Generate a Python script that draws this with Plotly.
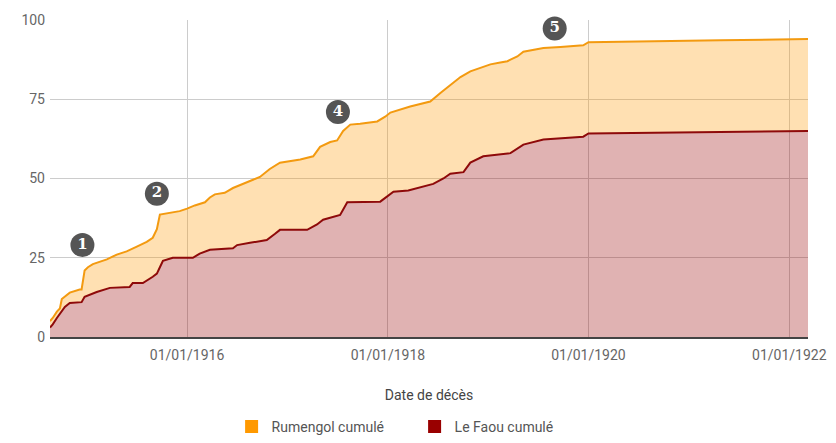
import plotly.graph_objects as go

# Rumengol cumulative deaths
rum_dates = ["1914-08-20", "1914-08-30", "1914-09-14", "1914-09-25", "1914-10-02", "1914-10-16",
             "1914-10-31", "1914-12-06", "1914-12-13", "1914-12-24", "1915-01-05", "1915-01-23",
             "1915-03-15", "1915-04-20", "1915-05-26", "1915-07-02", "1915-08-07", "1915-08-29",
             "1915-09-13", "1915-09-24", "1915-10-30", "1915-12-05", "1916-01-01", "1916-01-29",
             "1916-03-06", "1916-03-24", "1916-04-11", "1916-05-17", "1916-06-16", "1916-07-12",
             "1916-08-28", "1916-09-22", "1916-10-28", "1916-12-04", "1917-02-16", "1917-04-04",
             "1917-04-29", "1917-06-05", "1917-06-30", "1917-07-22", "1917-08-17", "1917-09-22",
             "1917-11-23", "1917-12-22", "1918-01-10", "1918-03-23", "1918-06-04", "1918-07-11",
             "1918-08-16", "1918-09-22", "1918-10-28", "1918-12-03", "1919-01-09", "1919-02-14",
             "1919-03-12", "1919-03-23", "1919-04-17", "1919-05-09", "1919-06-14", "1919-07-21",
             "1919-09-21", "1919-12-13", "1920-01-01", "1920-04-27", "1920-09-20", "1921-04-26",
             "1922-03-10"]
rum_values = [5, 6, 8, 9, 12, 13,
              14, 15, 15, 21, 22, 23,
              24.5, 26, 27, 28.5, 30, 31.3,
              34, 38.6, 39.2, 39.7, 40.5, 41.5,
              42.5, 44, 45, 45.5, 47, 48,
              49.6, 50.5, 53, 55, 56, 57,
              60, 61.5, 62, 65, 67, 67.3,
              68, 69.5, 70.8, 72.7, 74.3, 77,
              79.6, 82, 83.8, 85, 86, 86.6,
              87, 87.5, 88.5, 90, 90.7, 91.2,
              91.5, 92, 93, 93.2, 93.3, 93.6,
              94]

# Le Faou cumulative deaths
fao_dates = ["1914-08-20", "1914-08-30", "1914-09-14", "1914-10-02", "1914-10-13", "1914-10-31",
             "1914-12-13", "1914-12-24", "1915-02-06", "1915-03-26", "1915-06-06", "1915-06-17",
             "1915-07-24", "1915-08-29", "1915-09-13", "1915-09-24", "1915-10-05", "1915-11-10",
             "1916-01-22", "1916-02-16", "1916-03-24", "1916-06-16", "1916-07-01", "1916-08-17",
             "1916-10-17", "1916-11-15", "1916-12-04", "1917-03-13", "1917-04-18", "1917-05-10",
             "1917-07-11", "1917-08-06", "1917-12-04", "1918-01-21", "1918-03-16", "1918-06-15",
             "1918-07-22", "1918-08-16", "1918-10-03", "1918-10-28", "1918-12-14", "1919-03-23",
             "1919-04-28", "1919-05-09", "1919-07-21", "1919-12-13", "1920-01-01", "1920-09-20",
             "1922-03-10"]
fao_values = [3, 4, 6, 8, 9.5, 10.7,
              11, 12.7, 14.2, 15.5, 15.8, 17,
              17, 19, 20, 22, 24, 25,
              25, 26.3, 27.5, 28, 29, 29.7,
              30.6, 32.5, 33.8, 33.8, 35.5, 37,
              38.5, 42.5, 42.7, 45.8, 46.2, 48.3,
              50, 51.5, 52, 55, 57, 58,
              60, 60.7, 62.3, 63.2, 64.2, 64.5,
              65]

# numbered markers on the chart
mark_labels = ["1", "2", "4", "5"]
mark_dates = ["1914-12-16", "1915-09-13", "1917-07-03", "1919-08-31"]
mark_values = [29, 45.2, 71, 97.3]

tick_dates = ["1916-01-01", "1918-01-01", "1920-01-01", "1922-01-01"]
tick_text = ["01/01/1916", "01/01/1918", "01/01/1920", "01/01/1922"]

ORANGE = "#ff9900"
ORANGE_LINE = "#f39a10"
RED = "#990000"
RED_LINE = "#8e0a0a"

fig = go.Figure()
fig.add_trace(go.Scatter(x=fao_dates, y=fao_values, mode="lines", fill="tozeroy",
                         line=dict(color=RED_LINE, width=2),
                         fillcolor="rgba(153,0,0,0.3)", showlegend=False, hoverinfo="skip"))
fig.add_trace(go.Scatter(x=rum_dates, y=rum_values, mode="lines", fill="tonexty",
                         line=dict(color=ORANGE_LINE, width=2),
                         fillcolor="rgba(255,153,0,0.3)", showlegend=False, hoverinfo="skip"))
# legend entries
fig.add_trace(go.Scatter(x=[None], y=[None], mode="markers", name="Rumengol cumulé",
                         marker=dict(symbol="square", size=13, color=ORANGE)))
fig.add_trace(go.Scatter(x=[None], y=[None], mode="markers", name="Le Faou cumulé",
                         marker=dict(symbol="square", size=13, color=RED)))
# numbered circles
fig.add_trace(go.Scatter(x=mark_dates, y=mark_values, mode="markers+text", text=mark_labels,
                         textposition="middle center", cliponaxis=False, showlegend=False,
                         marker=dict(size=24, color="#555555"),
                         textfont=dict(family="DejaVu Serif", size=15, color="white", weight="bold"),
                         hoverinfo="skip"))

# the page body adds an 8px offset, so the figure is 8px smaller and margins compensate
fig.update_layout(
    width=828, height=435,
    margin=dict(l=42, r=28, t=12, b=106, autoexpand=False),
    paper_bgcolor="white", plot_bgcolor="white",
    font=dict(family="Roboto", size=14, color="#666666"),
    showlegend=True,
    legend=dict(orientation="h", x=0.481, xanchor="center", y=-0.334, yanchor="bottom",
                traceorder="normal", borderwidth=0, entrywidth=138, entrywidthmode="pixels",
                font=dict(size=14, color="#555555"), itemwidth=30),
    xaxis=dict(range=["1914-08-20", "1922-03-10"], tickvals=tick_dates, ticktext=tick_text,
               automargin=False, ticklabelstandoff=4,
               showgrid=True, gridcolor="#cccccc", gridwidth=1, zeroline=False,
               showline=True, linecolor="#444444", linewidth=1.5,
               tickfont=dict(size=14, color="#666666"),
               title=dict(text="Date de décès", standoff=29, font=dict(size=14, color="#444444"))),
    yaxis=dict(range=[0, 100], tickvals=[0, 25, 50, 75, 100], automargin=False,
               ticklabelstandoff=4,
               showgrid=True, gridcolor="#cccccc", gridwidth=1, zeroline=False,
               tickfont=dict(size=14, color="#666666")),
)

fig.write_html("out.html")
